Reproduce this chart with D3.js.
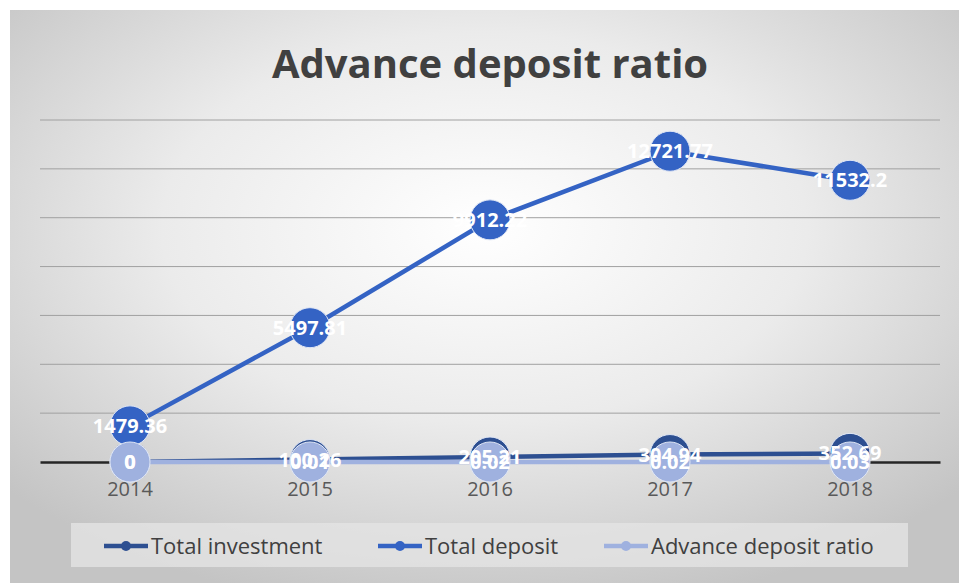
<!DOCTYPE html>
<html>
<head>
<meta charset="utf-8">
<script src="https://cdn.jsdelivr.net/npm/d3@7/dist/d3.min.js"></script>
<style>
  body { margin: 0; background: #fff; }
  svg { display: block; font-family: "Open Sans", "Noto Sans", sans-serif; }
</style>
</head>
<body>
<div id="chart"></div>
<script>
// chart data
var years = ["2014", "2015", "2016", "2017", "2018"];
var totalInvestment = [0, 100.26, 205.21, 304.94, 352.69];
var totalDeposit = [1479.36, 5497.81, 9912.22, 12721.77, 11532.2];
var depositRatio = [0, 0.01, 0.02, 0.02, 0.03];
var yTicks = [0, 2000, 4000, 6000, 8000, 10000, 12000, 14000];

var seriesNames = ["Total investment", "Total deposit", "Advance deposit ratio"];
var seriesColors = ["#2d4f91", "#3463c4", "#9fb1df"];

var W = 959, H = 583;
var svg = d3.select("#chart").append("svg")
    .attr("width", W).attr("height", H);

// background gradient
var defs = svg.append("defs");
var grad = defs.append("radialGradient")
    .attr("id", "bg")
    .attr("cx", "50%").attr("cy", "38%").attr("r", "68%");
grad.append("stop").attr("offset", "0%").attr("stop-color", "#ffffff");
grad.append("stop").attr("offset", "50%").attr("stop-color", "#ebebeb");
grad.append("stop").attr("offset", "100%").attr("stop-color", "#c4c4c4");

svg.append("rect")
    .attr("x", 10).attr("y", 10)
    .attr("width", W - 10).attr("height", H - 10)
    .attr("fill", "url(#bg)");

// title
svg.append("text")
    .attr("x", 490).attr("y", 78)
    .attr("text-anchor", "middle")
    .attr("font-size", 40)
    .attr("font-weight", "bold")
    .attr("fill", "#404040")
    .text("Advance deposit ratio");

var x = d3.scaleBand().domain(years).range([40, 940]);
var y = d3.scaleLinear().domain([0, 14000]).range([462, 120]);

// gridlines
svg.append("g")
    .selectAll("line")
    .data(yTicks.slice(1))
    .join("line")
    .attr("x1", 40).attr("x2", 940)
    .attr("y1", function(d){ return y(d); })
    .attr("y2", function(d){ return y(d); })
    .attr("stroke", "#a0a0a0")
    .attr("stroke-width", 1);

// x axis
var xAxis = svg.append("g")
    .attr("transform", "translate(0," + y(0) + ")")
    .call(d3.axisBottom(x).tickSize(0).tickPadding(20));
xAxis.select(".domain").attr("stroke", "#262626").attr("stroke-width", 2.5);
xAxis.selectAll("text")
    .attr("font-size", 20)
    .attr("fill", "#595959")
    .attr("font-family", "Open Sans, sans-serif");

var allSeries = [totalInvestment, totalDeposit, depositRatio];
var cx = function(i){ return x(years[i]) + x.bandwidth() / 2; };

var line = d3.line()
    .x(function(d, i){ return cx(i); })
    .y(function(d){ return y(d); });

allSeries.forEach(function(vals, s){
    svg.append("path")
        .datum(vals)
        .attr("d", line)
        .attr("fill", "none")
        .attr("stroke", seriesColors[s])
        .attr("stroke-width", 4.5);
    svg.append("g")
        .selectAll("circle")
        .data(vals)
        .join("circle")
        .attr("cx", function(d, i){ return cx(i); })
        .attr("cy", function(d){ return y(d); })
        .attr("r", 20)
        .attr("fill", seriesColors[s])
        .attr("stroke", "#dfe6f5")
        .attr("stroke-width", 1);
});

// data labels
allSeries.forEach(function(vals, s){
    svg.append("g")
        .selectAll("text")
        .data(vals)
        .join("text")
        .attr("x", function(d, i){ return cx(i); })
        .attr("y", function(d){ return y(d) + 7; })
        .attr("text-anchor", "middle")
        .attr("font-size", 20)
        .attr("font-weight", "bold")
        .attr("fill", "#ffffff")
        .text(function(d){ return d; });
});

// legend
var lg = svg.append("g");
lg.append("rect")
    .attr("x", 71).attr("y", 523)
    .attr("width", 837).attr("height", 44)
    .attr("fill", "#e4e4e4").attr("opacity", 0.8);

var legendX = [104, 378, 604];
seriesNames.forEach(function(name, s){
    var g = lg.append("g").attr("transform", "translate(" + legendX[s] + ",546)");
    g.append("line")
        .attr("x1", 0).attr("x2", 44)
        .attr("stroke", seriesColors[s]).attr("stroke-width", 4.5);
    g.append("circle")
        .attr("cx", 22).attr("r", 5)
        .attr("fill", seriesColors[s]);
    g.append("text")
        .attr("x", 47).attr("y", 8)
        .attr("font-size", 22)
        .attr("fill", "#404040")
        .text(name);
});
</script>
</body>
</html>
